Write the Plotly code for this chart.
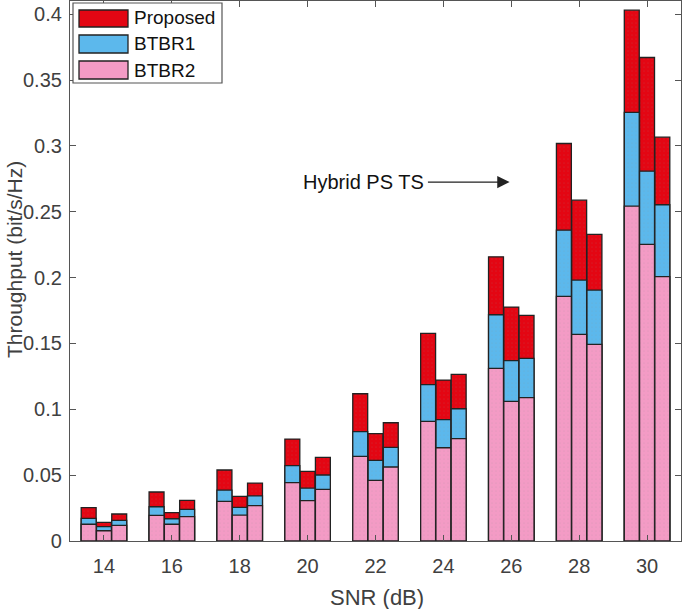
import plotly.graph_objects as go

snr = [14, 16, 18, 20, 22, 24, 26, 28, 30]
schemes = ["Hybrid", "PS", "TS"]

# Throughput levels (top of each coloured segment) per scheme: Hybrid, PS, TS
proposed = {
    "Hybrid": [0.0253, 0.0372, 0.0539, 0.0774, 0.1118, 0.1576, 0.2158, 0.3018, 0.4030],
    "PS":     [0.0142, 0.0215, 0.0339, 0.0529, 0.0815, 0.1222, 0.1776, 0.2588, 0.3671],
    "TS":     [0.0205, 0.0309, 0.0440, 0.0635, 0.0898, 0.1265, 0.1713, 0.2328, 0.3066],
}
btbr1 = {
    "Hybrid": [0.0172, 0.0260, 0.0387, 0.0572, 0.0830, 0.1187, 0.1718, 0.2360, 0.3254],
    "PS":     [0.0109, 0.0169, 0.0256, 0.0402, 0.0612, 0.0921, 0.1369, 0.1981, 0.2808],
    "TS":     [0.0157, 0.0240, 0.0342, 0.0501, 0.0711, 0.1004, 0.1387, 0.1905, 0.2553],
}
btbr2 = {
    "Hybrid": [0.0127, 0.0195, 0.0301, 0.0443, 0.0643, 0.0908, 0.1311, 0.1857, 0.2543],
    "PS":     [0.0078, 0.0127, 0.0197, 0.0306, 0.0460, 0.0708, 0.1060, 0.1569, 0.2252],
    "TS":     [0.0119, 0.0185, 0.0268, 0.0392, 0.0562, 0.0777, 0.1088, 0.1493, 0.2008],
}
y_ticks = [0, 0.05, 0.1, 0.15, 0.2, 0.25, 0.3, 0.35, 0.4]
y_ticktext = ["0", "0.05", "0.1", "0.15", "0.2", "0.25", "0.3", "0.35", "0.4"]

series = [("Proposed", proposed, "#E30613"),
          ("BTBR1", btbr1, "#5CB8EC"),
          ("BTBR2", btbr2, "#F39BC5")]

FONT = "Liberation Sans, Arial, sans-serif"
bar_w = 0.44
step = 0.45

# plot area in pixels (for the custom legend / titles placement)
L, R, T, B = 70, 681, 1, 541
def px(xp):
    return (xp - L) / (R - L)
def py(yp):
    return (B - yp) / (B - T)

fig = go.Figure()
for name, data, color in series:
    for gi, sch in enumerate(schemes):
        fig.add_trace(go.Bar(
            x=snr, y=data[sch], name=f"{name} ({sch})",
            showlegend=False,
            width=bar_w, offset=(gi - 1) * step - bar_w / 2,
            marker=dict(color=color, line=dict(color="#222222", width=1.3),
                        pattern=dict(shape=".", size=4, solidity=0.06,
                                     fgcolor="#8a8a8a", fgopacity=0.3)),
        ))

axis_common = dict(
    showline=True, linecolor="#555555", linewidth=1.2, mirror="ticks",
    ticks="inside", ticklen=6, tickcolor="#555555",
    showgrid=False, zeroline=False,
    tickfont=dict(family=FONT, size=20, color="#404040"),
)

fig.update_layout(
    width=685, height=609,
    margin=dict(l=L, r=685 - R, t=T, b=609 - B),
    paper_bgcolor="white", plot_bgcolor="white",
    barmode="overlay",
    font=dict(family=FONT, color="#404040"),
    xaxis=dict(range=[13, 31], tickvals=snr, ticktext=[str(s) for s in snr],
               ticklabelstandoff=7, **axis_common),
    yaxis=dict(range=[0, 0.41], tickvals=y_ticks, ticktext=y_ticktext,
               ticklabelstandoff=3, **axis_common),
    showlegend=False,
)

# axis titles
fig.add_annotation(x=px(377), y=py(597), xref="paper", yref="paper",
                   text="SNR (dB)", showarrow=False, xanchor="center", yanchor="middle",
                   font=dict(family=FONT, size=22, color="#404040"))
fig.add_annotation(x=px(14), y=py(260), xref="paper", yref="paper",
                   text="Throughput (bit/s/Hz)", showarrow=False, textangle=-90,
                   xanchor="center", yanchor="middle",
                   font=dict(family=FONT, size=21, color="#404040"))

# custom legend
fig.add_shape(type="rect", xref="paper", yref="paper",
              x0=px(73), x1=px(222), y0=py(83), y1=py(3),
              fillcolor="white", line=dict(color="#555555", width=1.2))
legend_rows = [("Proposed", "#E30613", 10, 27, 18),
               ("BTBR1", "#5CB8EC", 35, 53, 44),
               ("BTBR2", "#F39BC5", 61, 79, 70)]
for name, color, y0, y1, yc in legend_rows:
    fig.add_shape(type="rect", xref="paper", yref="paper",
                  x0=px(79), x1=px(128), y0=py(y1), y1=py(y0),
                  fillcolor=color, line=dict(color="#222222", width=1.3))
    fig.add_annotation(x=px(132), y=py(yc), xref="paper", yref="paper",
                       text=name, showarrow=False, xanchor="left", yanchor="middle",
                       font=dict(family=FONT, size=19, color="#111111"))

# Hybrid PS TS pointer
fig.add_annotation(
    x=25.95, y=0.2725, ax=23.5, ay=0.2725, xref="x", yref="y", axref="x", ayref="y",
    showarrow=True, arrowhead=2, arrowsize=1.9, arrowwidth=1.3, arrowcolor="#222222",
    text="",
)
fig.add_annotation(
    x=23.5, y=0.2725, xref="x", yref="y", xanchor="right", yanchor="middle",
    text="Hybrid PS TS", showarrow=False,
    font=dict(family=FONT, size=20, color="#111111"),
)

fig.write_html("out.html", config={"displayModeBar": False},
               post_script="document.body.style.margin='0';")
